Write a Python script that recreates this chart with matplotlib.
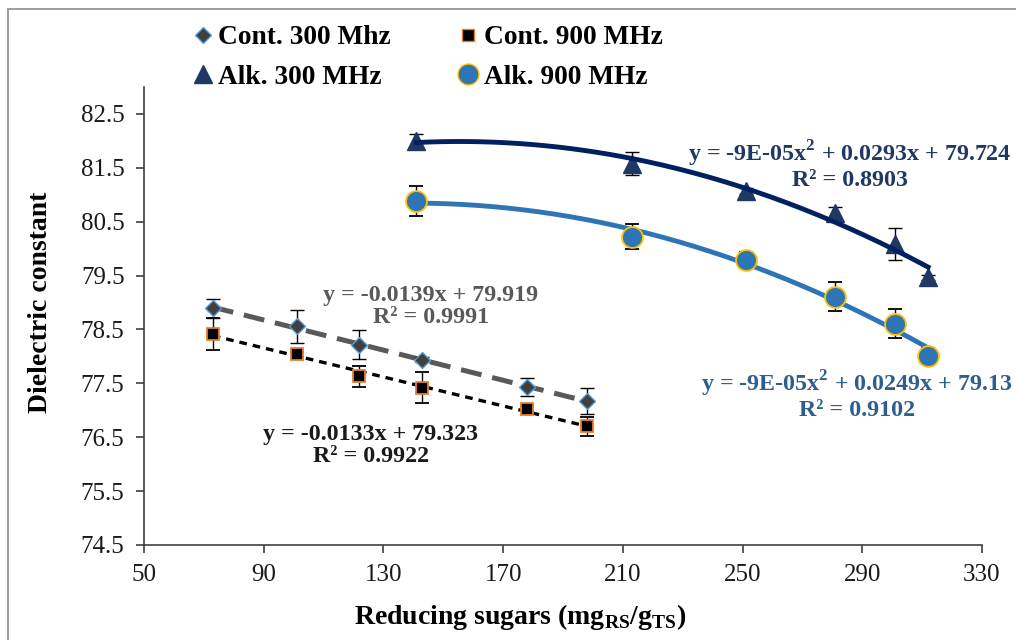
import matplotlib
matplotlib.use('Agg')
import matplotlib.pyplot as plt
import numpy as np
from matplotlib.lines import Line2D
from matplotlib.patches import Rectangle

plt.rcParams['font.family'] = ['Liberation Serif', 'DejaVu Serif']
plt.rcParams['mathtext.fontset'] = 'custom'
plt.rcParams['mathtext.rm'] = 'Liberation Serif'
plt.rcParams['mathtext.bf'] = 'Liberation Serif:bold'

# control samples
cont_x = [73, 101, 122, 143, 178, 198]
cont300_y = [78.89, 78.56, 78.22, 77.94, 77.43, 77.17]
cont300_err = [0.17, 0.31, 0.27, 0.05, 0.17, 0.24]
cont900_y = [78.42, 78.04, 77.63, 77.42, 77.03, 76.70]
cont900_err = [0.30, 0.05, 0.20, 0.29, 0.05, 0.17]

# alkaline samples
alk_x = [141, 213, 251, 281, 301, 312]
alk300_y = [82.00, 81.58, 81.07, 80.67, 80.09, 79.47]
alk300_err = [0.13, 0.22, 0.05, 0.10, 0.30, 0.05]
alk900_y = [80.88, 80.22, 79.79, 79.11, 78.61, 78.00]
alk900_err = [0.28, 0.23, 0.15, 0.27, 0.27, 0.15]

labels = ['Cont. 300 Mhz', 'Cont. 900 MHz', 'Alk. 300 MHz', 'Alk. 900 MHz']

fig = plt.figure(figsize=(10.16, 6.4), dpi=100)
ax = fig.add_axes([144 / 1016, 95 / 640, 838 / 1016, 458 / 640])

navy = '#002060'
blue = '#2E75B6'

# trendlines
def trend(x, y, deg, **kw):
    c = np.polyfit(x, y, deg)
    xs = np.linspace(min(x), max(x), 200)
    ax.plot(xs, np.polyval(c, xs), **kw)

trend(cont_x, cont300_y, 1, color='#595959', lw=3.6, dashes=(4.2, 2.2), zorder=3)
trend(cont_x, cont900_y, 1, color='black', lw=2.4, dashes=(2.3, 1.8), zorder=3)
trend(alk_x, alk300_y, 2, color=navy, lw=3.5, zorder=3)
trend(alk_x, alk900_y, 2, color=blue, lw=3.5, zorder=3)

eb = dict(ls='none', ecolor='black', elinewidth=1.0, capsize=5, capthick=1.0)
ax.errorbar(cont_x, cont300_y, yerr=cont300_err, marker='D', ms=8, mfc='#404040',
            mec='#5B9BD5', mew=1, zorder=4, **eb)
ax.errorbar(cont_x, cont900_y, yerr=cont900_err, marker='s', ms=9, mfc='black',
            mec='#ED7D31', mew=1.3, zorder=4, **eb)
ax.errorbar(alk_x, alk300_y, yerr=alk300_err, marker='^', ms=13, mfc='#1F3864',
            mec='#1F3864', mew=1, zorder=2, **eb)
ax.errorbar(alk_x, alk900_y, yerr=alk900_err, marker='o', ms=15, mfc=blue,
            mec='#FFC000', mew=1.3, zorder=4, **eb)

ax.set_xlim(50, 330)
ax.set_ylim(74.5, 83.0)
ax.set_xticks(np.arange(50, 331, 40))
ax.set_yticks(np.arange(74.5, 82.6, 1.0))
ax.yaxis.set_major_formatter(matplotlib.ticker.FormatStrFormatter('%.1f'))
for s in ['top', 'right']:
    ax.spines[s].set_visible(False)
for s in ['left', 'bottom']:
    ax.spines[s].set_color('#404040')
    ax.spines[s].set_linewidth(1.2)
ax.tick_params(axis='both', direction='out', length=6, width=1.2, color='#404040',
               labelsize=18, labelcolor='#1a1a1a')
ax.tick_params(axis='x', pad=8)
ax.tick_params(axis='y', pad=8)

ax.set_ylabel('Dielectric constant', fontsize=20, fontweight='bold')
ax.yaxis.set_label_coords(-0.108, 0.53)
ax.set_xlabel(r'Reducing sugars (mg$_{\mathbf{RS}}$/g$_{\mathbf{TS}}$)', fontsize=20,
              fontweight='bold')
ax.xaxis.set_label_coords(0.449, -0.124)

# equations
tk = dict(ha='center', va='center', fontsize=17.3, fontweight='bold', linespacing=1.05)
ax.text(285.9, 81.55, 'y = -9E-05x$^{\\mathbf{2}}$ + 0.0293x + 79.724\nR² = 0.8903',
        color='#1F3864', **tk)
ax.text(288.2, 77.29, 'y = -9E-05x$^{\\mathbf{2}}$ + 0.0249x + 79.13\nR² = 0.9102',
        color='#2F5E8E', **tk)
ax.text(145.9, 78.93, 'y = -0.0139x + 79.919\nR² = 0.9991', color='#595959', **tk)
ax.text(125.8, 76.34, 'y = -0.0133x + 79.323\nR² = 0.9922', color='#1a1a1a', **tk)

handles = [
    Line2D([], [], ls='none', marker='D', ms=8, mfc='#404040', mec='#5B9BD5'),
    Line2D([], [], ls='none', marker='^', ms=13, mfc='#1F3864', mec='#1F3864'),
    Line2D([], [], ls='none', marker='s', ms=9, mfc='black', mec='#ED7D31'),
    Line2D([], [], ls='none', marker='o', ms=15, mfc=blue, mec='#FFC000'),
]
leg_labels = [labels[0], labels[2], labels[1], labels[3]]
fig.legend(handles, leg_labels, ncol=2, frameon=False, loc='upper left',
           bbox_to_anchor=(195 / 1016, 1 - 25 / 640), prop={'weight': 'bold', 'size': 19.7},
           handlelength=0.55, handletextpad=0.3, columnspacing=2.55, labelspacing=0.52,
           borderpad=0, borderaxespad=0)

fig.add_artist(Rectangle((8 / 1016, -0.1), 1.2, 1.1 - 9 / 640, transform=fig.transFigure,
                         fill=False, ec='#8c8c8c', lw=1.2))

fig.savefig('out.png', dpi=100)
